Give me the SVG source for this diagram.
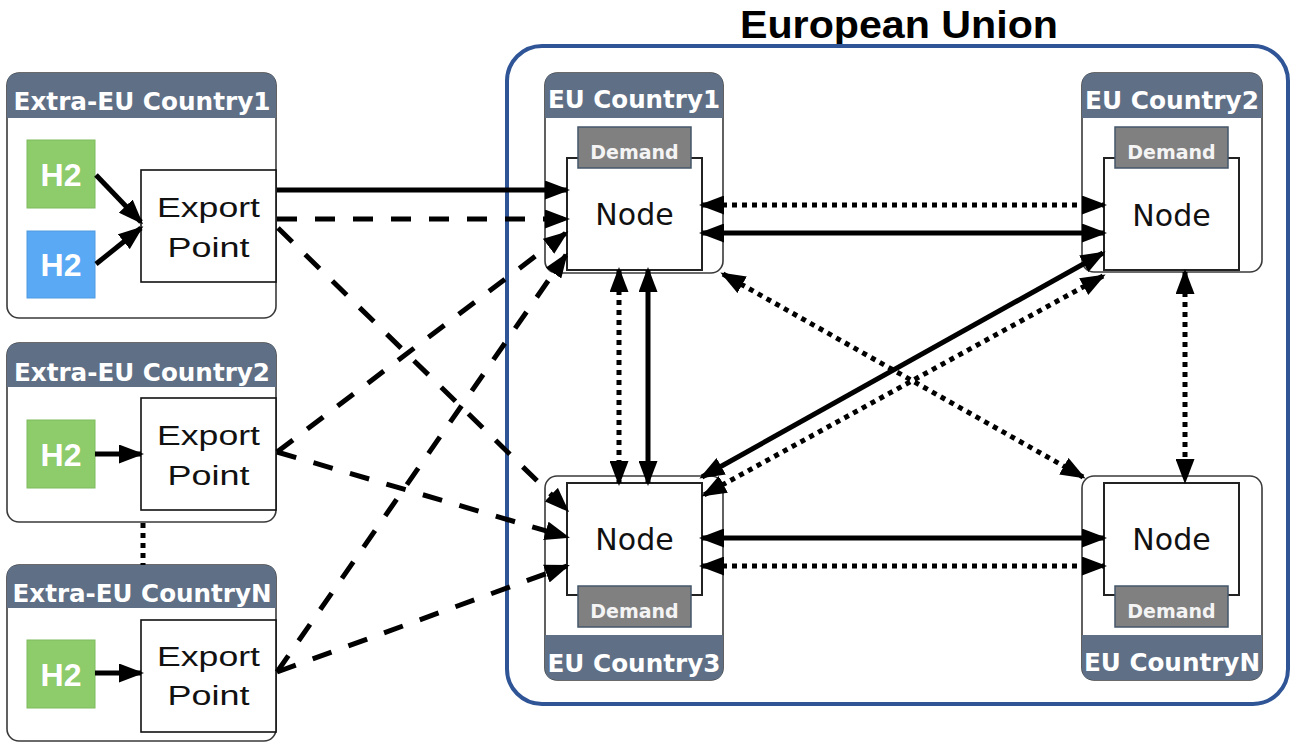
<svg xmlns="http://www.w3.org/2000/svg" width="1293" height="743" viewBox="0 0 1293 743">
<style>
.box{fill:#fff;stroke:#3a3a3a;stroke-width:1.6}
.hdr{fill:#5f7086}
.hdrt{font-family:"DejaVu Sans",sans-serif;font-weight:bold;font-size:25px;fill:#fff;text-anchor:middle}
.node{fill:#fff;stroke:#222;stroke-width:2}
.dem{fill:#808080;stroke:#44566a;stroke-width:1.5}
.demt{font-family:"DejaVu Sans",sans-serif;font-weight:bold;font-size:19px;fill:#f4f4f4;text-anchor:middle}
.nodet{font-family:"DejaVu Sans",sans-serif;font-size:30px;fill:#111;text-anchor:middle}
.exp{fill:#fff;stroke:#111;stroke-width:1.6}
.expt{font-family:"Liberation Sans",Arial,sans-serif;font-size:27px;fill:#111;text-anchor:middle}
.h2g{fill:#8ecb6b;stroke:#7fbb5e;stroke-width:1}
.h2b{fill:#5aa9f5;stroke:#4f9ae0;stroke-width:1}
.h2t{font-family:"Liberation Sans",Arial,sans-serif;font-weight:bold;font-size:32px;fill:#fff;text-anchor:middle}
.c{fill:none;stroke:#000;stroke-width:5}
.dash{stroke-dasharray:20 18}
.dot{stroke-dasharray:5 5}
.a1{marker-end:url(#ah)}
.a2{marker-start:url(#ah);marker-end:url(#ah)}
</style>
<defs>
<marker id="ah" markerUnits="userSpaceOnUse" markerWidth="25" markerHeight="19" refX="22" refY="9.5" orient="auto-start-reverse">
<path d="M0,0 L25,9.5 L0,19 z" fill="#000"/>
</marker>
</defs>

<text x="899" y="38" font-family="'Liberation Sans',Arial,sans-serif" font-weight="bold" font-size="38" text-anchor="middle" textLength="318" lengthAdjust="spacingAndGlyphs" fill="#000">European Union</text>
<rect id="eu-region" x="507" y="46" width="781" height="658" rx="35" fill="none" stroke="#2f5597" stroke-width="4"/>

<g id="extra-eu-country1">
<rect class="box" x="7" y="73" width="269" height="245" rx="12"/>
<path class="hdr" d="M7,118 L7,85 Q7,73 19,73 L264,73 Q276,73 276,85 L276,118 Z"/>
<text class="hdrt" x="142" y="110" textLength="257" lengthAdjust="spacingAndGlyphs">Extra-EU Country1</text>
<rect class="h2g" x="27" y="140" width="68" height="68"/>
<text class="h2t" x="61" y="186">H2</text>
<rect class="h2b" x="27" y="231" width="68" height="67"/>
<text class="h2t" x="61" y="276">H2</text>
<rect class="exp" x="141" y="170" width="135" height="112"/>
<text class="expt" x="208.5" y="217" textLength="103" lengthAdjust="spacingAndGlyphs">Export</text>
<text class="expt" x="208.5" y="257" textLength="82" lengthAdjust="spacingAndGlyphs">Point</text>
</g>

<g id="extra-eu-country2">
<rect class="box" x="7" y="343" width="269" height="179" rx="12"/>
<path class="hdr" d="M7,387 L7,355 Q7,343 19,343 L264,343 Q276,343 276,355 L276,387 Z"/>
<text class="hdrt" x="142" y="381" textLength="256" lengthAdjust="spacingAndGlyphs">Extra-EU Country2</text>
<rect class="h2g" x="27" y="420" width="68" height="68"/>
<text class="h2t" x="61" y="466">H2</text>
<rect class="exp" x="141" y="398" width="135" height="112"/>
<text class="expt" x="208.5" y="445" textLength="103" lengthAdjust="spacingAndGlyphs">Export</text>
<text class="expt" x="208.5" y="485" textLength="82" lengthAdjust="spacingAndGlyphs">Point</text>
</g>

<g id="extra-eu-countryN">
<rect class="box" x="7" y="565" width="269" height="176" rx="12"/>
<path class="hdr" d="M7,608 L7,577 Q7,565 19,565 L264,565 Q276,565 276,577 L276,608 Z"/>
<text class="hdrt" x="142" y="602" textLength="259" lengthAdjust="spacingAndGlyphs">Extra-EU CountryN</text>
<rect class="h2g" x="27" y="640" width="68" height="68"/>
<text class="h2t" x="61" y="686">H2</text>
<rect class="exp" x="141" y="620" width="135" height="112"/>
<text class="expt" x="208.5" y="666" textLength="103" lengthAdjust="spacingAndGlyphs">Export</text>
<text class="expt" x="208.5" y="705" textLength="82" lengthAdjust="spacingAndGlyphs">Point</text>
</g>

<g id="eu-country1">
<rect class="box" x="545" y="73" width="178" height="200" rx="12"/>
<path class="hdr" d="M545,118 L545,85 Q545,73 557,73 L711,73 Q723,73 723,85 L723,118 Z"/>
<text class="hdrt" x="634" y="108" textLength="172" lengthAdjust="spacingAndGlyphs">EU Country1</text>
<rect class="node" x="567" y="158" width="135" height="112"/>
<rect class="dem" x="578" y="127" width="113" height="41"/>
<text class="demt" x="634.5" y="159">Demand</text>
<text class="nodet" x="634.5" y="225">Node</text>
</g>

<g id="eu-country2">
<rect class="box" x="1082" y="73" width="180" height="199" rx="12"/>
<path class="hdr" d="M1082,118 L1082,85 Q1082,73 1094,73 L1250,73 Q1262,73 1262,85 L1262,118 Z"/>
<text class="hdrt" x="1172" y="109" textLength="174" lengthAdjust="spacingAndGlyphs">EU Country2</text>
<rect class="node" x="1104" y="158" width="135" height="112"/>
<rect class="dem" x="1115" y="127" width="113" height="41"/>
<text class="demt" x="1171.5" y="159">Demand</text>
<text class="nodet" x="1171.5" y="226">Node</text>
</g>

<g id="eu-country3">
<rect class="box" x="545" y="476" width="178" height="204" rx="12"/>
<path class="hdr" d="M545,635 L723,635 L723,668 Q723,680 711,680 L557,680 Q545,680 545,668 Z"/>
<text class="hdrt" x="634" y="672" textLength="173" lengthAdjust="spacingAndGlyphs">EU Country3</text>
<rect class="node" x="567" y="483" width="135" height="112"/>
<rect class="dem" x="578" y="586" width="113" height="41"/>
<text class="demt" x="634.5" y="618">Demand</text>
<text class="nodet" x="634.5" y="550">Node</text>
</g>

<g id="eu-countryN">
<rect class="box" x="1082" y="476" width="180" height="204" rx="12"/>
<path class="hdr" d="M1082,635 L1262,635 L1262,668 Q1262,680 1250,680 L1094,680 Q1082,680 1082,668 Z"/>
<text class="hdrt" x="1172" y="671" textLength="176" lengthAdjust="spacingAndGlyphs">EU CountryN</text>
<rect class="node" x="1104" y="483" width="135" height="112"/>
<rect class="dem" x="1115" y="586" width="113" height="41"/>
<text class="demt" x="1171.5" y="618">Demand</text>
<text class="nodet" x="1171.5" y="550">Node</text>
</g>

<g id="connectors">
<path class="c a1" d="M96,175 L141,222"/>
<path class="c a1" d="M96,264 L141,228"/>
<path class="c a1" d="M95,454 L141,454"/>
<path class="c a1" d="M95,673 L141,673"/>
<path class="c dot" stroke-width="4" d="M143,523 L143,565"/>

<path class="c a1" d="M277,190 L567,190"/>
<path class="c dash a1" d="M277,219 L567,219"/>
<path class="c dash a1" d="M278,228 L567,510"/>
<path class="c dash a1" d="M277,452 L566,233"/>
<path class="c dash a1" d="M277,452 L567,537"/>
<path class="c dash a1" d="M277,672 L566,255"/>
<path class="c dash a1" d="M277,672 L567,566"/>

<path class="c dot a2" d="M702,205 L1104,205"/>
<path class="c a2" d="M702,233 L1104,233"/>
<path class="c dot a2" d="M619,270 L619,483"/>
<path class="c a2" d="M648,270 L648,483"/>
<path class="c dot a2" d="M1185,272 L1185,481"/>
<path class="c a2" d="M702,538 L1104,538"/>
<path class="c dot a2" d="M702,566 L1104,566"/>
<path class="c dot a2" d="M723,274 L1083,477"/>
<path class="c a2" d="M1103,253 L702,477"/>
<path class="c dot a2" d="M1103,276 L704,495"/>
</g>
</svg>
